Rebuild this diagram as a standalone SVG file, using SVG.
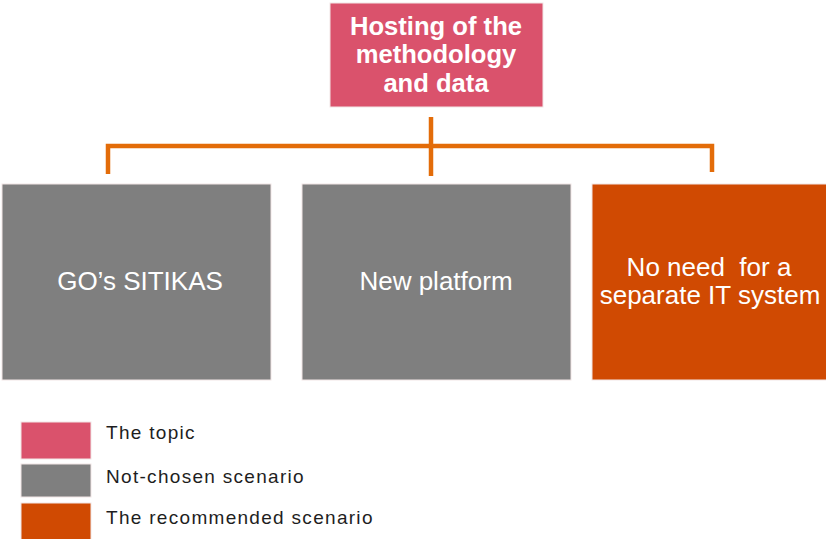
<svg xmlns="http://www.w3.org/2000/svg" width="826" height="539" viewBox="0 0 826 539">
  <style>
    .topic { fill: #DA526C; }
    .other { fill: #7F7F7F; }
    .chosen { fill: #D04A02; }
    .box { stroke: #F2E6E6; stroke-width: 1; }
    .label { font-family: "Liberation Sans", Arial, sans-serif; fill: #FFFFFF; text-anchor: middle; font-size: 26px; }
    .title { font-weight: bold; font-size: 25.6px; }
    .link { fill: none; stroke: #E36C09; stroke-width: 4.5; }
    .legend-text { font-family: "Liberation Sans", Arial, sans-serif; font-size: 19px; letter-spacing: 1.3px; fill: #1E1E1E; }
  </style>
  <rect width="826" height="539" fill="#FFFFFF"/>

  <!-- connectors -->
  <g id="connectors">
    <path class="link" d="M431,117 V176"/>
    <path class="link" d="M108,174 V146 H712 V172"/>
  </g>

  <!-- topic -->
  <g id="topic">
    <rect class="topic box" x="330" y="3" width="213" height="104"/>
    <text class="label title" x="436" y="35">Hosting of the</text>
    <text class="label title" x="436" y="63">methodology</text>
    <text class="label title" x="436" y="92">and data</text>
  </g>

  <!-- scenarios -->
  <g id="sitikas">
    <rect class="other box" x="2" y="184" width="269" height="196"/>
    <text class="label" x="140" y="290">GO’s SITIKAS</text>
  </g>
  <g id="new-platform">
    <rect class="other box" x="302" y="184" width="269" height="196"/>
    <text class="label" x="436" y="290">New platform</text>
  </g>
  <g id="no-separate-system">
    <rect class="chosen box" x="592" y="184" width="236" height="196"/>
    <text class="label" x="709" y="276" xml:space="preserve">No need  for a</text>
    <text class="label" x="710" y="304">separate IT system</text>
  </g>

  <!-- legend -->
  <g id="legend">
    <rect class="topic box" x="21" y="422" width="70" height="37"/>
    <rect class="other box" x="21" y="464" width="70" height="33"/>
    <rect class="chosen box" x="21" y="503" width="70" height="40"/>
    <text class="legend-text" x="106" y="439">The topic</text>
    <text class="legend-text" x="106" y="483">Not-chosen scenario</text>
    <text class="legend-text" x="106" y="524">The recommended scenario</text>
  </g>
</svg>
